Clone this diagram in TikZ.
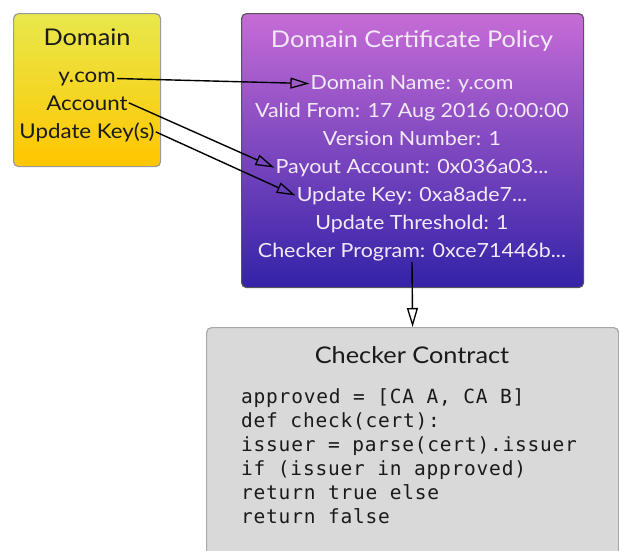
\documentclass[tikz,border=0pt]{standalone}
\usepackage{fontspec}
\setmainfont{Lato}[FakeStretch=1.1]
\newfontfamily\codefont[LetterSpace=4]{DejaVu Sans Mono}
\usetikzlibrary{arrows.meta}

\definecolor{domtop}{HTML}{E8E84C}
\definecolor{dombot}{HTML}{FFC600}
\definecolor{domline}{HTML}{9A9A9A}
\definecolor{poltop}{HTML}{C66CD6}
\definecolor{polbot}{HTML}{3322A8}
\definecolor{polline}{HTML}{555555}
\definecolor{poltext}{HTML}{F2EAF8}
\definecolor{chkfill}{HTML}{D9D9D9}
\definecolor{chkline}{HTML}{A8A8A8}
\definecolor{ink}{HTML}{1A1A1A}

\tikzset{
  box/.style={draw, line width=1.2pt, rounded corners=5pt, anchor=north west, inner sep=0pt},
  domainbox/.style={box, draw=domline, top color=domtop, bottom color=dombot},
  policybox/.style={box, draw=polline, top color=poltop, bottom color=polbot},
  checkbox/.style={box, draw=chkline, fill=chkfill},
  title/.style={anchor=base, inner sep=0pt, font=\fontsize{23}{23}\selectfont},
  domfield/.style={anchor=base, inner sep=1pt, text=ink, font=\fontsize{20.3}{20.3}\selectfont},
  polfield/.style={anchor=base, inner sep=1pt, text=poltext, font=\fontsize{19.5}{19.5}\selectfont},
  codeline/.style={anchor=base west, inner sep=0pt, text=ink, font=\codefont\fontsize{19.5}{19.5}\selectfont},
  link/.style={line width=1.4pt, -{Triangle[open, length=19pt, width=11pt, line width=1.3pt]}}
}

\begin{document}
\begin{tikzpicture}[x=1pt, y=-1pt]
\useasboundingbox (0,0) rectangle (619,550);
\clip (0,0) rectangle (619,550);

% Domain record
\node[domainbox, minimum width=147pt, minimum height=153pt] (domain) at (13,13) {};
\node[title, text=ink] (domtitle) at (87,45) {Domain};
\node[domfield] (ycom) at (87,82) {y.com};
\node[domfield] (account) at (87,110) {Account};
\node[domfield] (ukeys) at (87,138) {Update Key(s)};

% Certificate policy
\node[policybox, minimum width=342pt, minimum height=274pt] (policy) at (241,13) {};
\node[title, text=poltext] (poltitle) at (412,47) {Domain Certificate Policy};
\node[polfield] (dname) at (412,89) {Domain Name: y.com};
\node[polfield] (valid) at (412,117) {Valid From: 17 Aug 2016 0:00:00};
\node[polfield] (version) at (412,145) {Version Number: 1};
\node[polfield] (payout) at (412,173) {Payout Account: 0x036a03...};
\node[polfield] (ukey) at (412,201) {Update Key: 0xa8ade7...};
\node[polfield] (thresh) at (412,229) {Update Threshold: 1};
\node[polfield] (cprog) at (412,257) {Checker Program: 0xce71446b...};

% Checker contract
\node[checkbox, minimum width=412pt, minimum height=240pt] (contract) at (206,327) {};
\node[title, text=ink] (chktitle) at (412,363) {Checker Contract};
\node[codeline] (c1) at (241,403) {approved = [CA A, CA B]};
\node[codeline] (c2) at (241,427) {def check(cert):};
\node[codeline] (c3) at (241,451) {issuer = parse(cert).issuer};
\node[codeline] (c4) at (241,475) {if (issuer in approved)};
\node[codeline] (c5) at (241,499) {return true else};
\node[codeline] (c6) at (241,523) {return false};

% Links
\draw[link] (ycom.east) -- (dname.west);
\draw[link] (account.east) -- (payout.west);
\draw[link] (ukeys.east) -- (ukey.west);
\draw[link] (cprog.south) -- (contract.north);
\end{tikzpicture}
\end{document}
